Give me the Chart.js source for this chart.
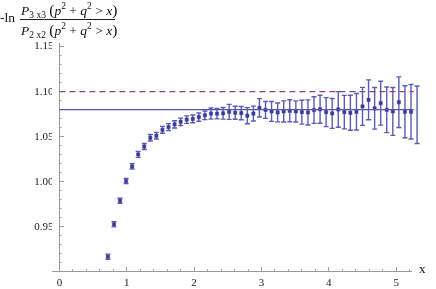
<!DOCTYPE html>
<html>
<head>
<meta charset="utf-8">
<script src="https://cdn.jsdelivr.net/npm/chart.js@4"></script>
<style>
  body { margin: 0; background: #fff; }
  #wrap { position: relative; width: 436px; height: 289px; }
  canvas { position: absolute; left: 0; top: 0; }
  .lbl { position: absolute; font-family: 'Liberation Serif', serif; color: #111; white-space: nowrap; line-height: 1; }
  #neg { left: 0; top: 11px; font-size: 13.5px; }
  #num { left: 21px; top: 2px; font-size: 13.5px; }
  #den { left: 21px; top: 22px; font-size: 13.5px; }
  #bar { position: absolute; left: 20px; top: 19px; width: 95px; height: 0; border-top: 1px solid #222; }
  #xlab { left: 419px; top: 262px; font-size: 13px; }
  .lbl sub { font-size: 9.5px; vertical-align: -3px; }
  .lbl sup { font-size: 9.5px; vertical-align: 6px; }
  .par { font-size: 15.5px; }
</style>
</head>
<body>
<div id="wrap">
  <canvas id="chart" width="436" height="289"></canvas>
  <div class="lbl" id="neg">-ln</div>
  <div class="lbl" id="num"><i>P</i><sub>3 x3</sub> <span class="par">(</span><i>p</i><sup>2</sup> + <i>q</i><sup>2</sup> &gt; <i>x</i><span class="par">)</span></div>
  <div id="bar"></div>
  <div class="lbl" id="den"><i>P</i><sub>2 x2</sub> <span class="par">(</span><i>p</i><sup>2</sup> + <i>q</i><sup>2</sup> &gt; <i>x</i><span class="par">)</span></div>
  <div class="lbl" id="xlab">x</div>
</div>
<script>
// data
const xValues = [0.72, 0.81, 0.90, 0.99, 1.08, 1.17, 1.26, 1.35, 1.44, 1.53,
                 1.62, 1.71, 1.80, 1.89, 1.98, 2.07, 2.16, 2.25, 2.34, 2.43,
                 2.52, 2.61, 2.70, 2.79, 2.88, 2.97, 3.06, 3.15, 3.24, 3.33,
                 3.42, 3.51, 3.60, 3.69, 3.78, 3.87, 3.96, 4.05, 4.14, 4.23,
                 4.32, 4.41, 4.50, 4.59, 4.68, 4.77, 4.86, 4.95, 5.04, 5.13,
                 5.22, 5.31];
const yValues = [0.9167, 0.9526, 0.9788, 1.0007, 1.0170, 1.0303, 1.0390, 1.0487, 1.0510, 1.0576,
                 1.0606, 1.0636, 1.0665, 1.0689, 1.0697, 1.0717, 1.0737, 1.0756, 1.0755, 1.0759,
                 1.0775, 1.0765, 1.0761, 1.0733, 1.0756, 1.0820, 1.0797, 1.0780, 1.0769, 1.0780,
                 1.0787, 1.0780, 1.0772, 1.0769, 1.0795, 1.0804, 1.0772, 1.0758, 1.0802, 1.0772,
                 1.0765, 1.0776, 1.0836, 1.0909, 1.0814, 1.0872, 1.0798, 1.0780, 1.0883, 1.0776,
                 1.0776, 1.0743];
const yErrors = [0.0028, 0.0028, 0.0028, 0.0028, 0.0030, 0.0033, 0.0033, 0.0036, 0.0037, 0.0038,
                 0.0039, 0.0040, 0.0041, 0.0042, 0.0043, 0.0046, 0.0048, 0.0062, 0.0058, 0.0064,
                 0.0083, 0.0072, 0.0074, 0.0089, 0.0083, 0.0102, 0.0094, 0.0111, 0.0105, 0.0117,
                 0.0122, 0.0117, 0.0133, 0.0139, 0.0148, 0.0155, 0.0161, 0.0166, 0.0198, 0.0186,
                 0.0194, 0.0203, 0.0211, 0.0222, 0.0231, 0.0244, 0.0253, 0.0266, 0.0281, 0.0289,
                 0.0303, 0.0319];

// horizontal reference lines
const refX = [0, 5.26];
const solidLevel = [1.08, 1.08];
const dashedLevel = [1.10, 1.10];

const xMin = -0.11, xMax = 5.22;
const yMin = 0.9, yMax = 1.154;

const pointColor = '#3a3a98';
const barColor = 'rgba(62, 62, 165, 0.85)';
const axisColor = '#9a9a9a';

const points = xValues.map((x, i) => ({ x: x, y: yValues[i] }));

// error bars drawn through the scales, under the points
const errorBars = {
    id: 'errorBars',
    beforeDatasetsDraw(chart) {
        const ctx = chart.ctx;
        const xs = chart.scales.x;
        const ys = chart.scales.y;
        ctx.save();
        ctx.strokeStyle = barColor;
        ctx.lineWidth = 1.4;
        xValues.forEach((x, i) => {
            const px = xs.getPixelForValue(x);
            const top = ys.getPixelForValue(yValues[i] + yErrors[i]);
            const bot = ys.getPixelForValue(yValues[i] - yErrors[i]);
            ctx.beginPath();
            ctx.moveTo(px, top); ctx.lineTo(px, bot);
            ctx.moveTo(px - 2.5, top); ctx.lineTo(px + 2.5, top);
            ctx.moveTo(px - 2.5, bot); ctx.lineTo(px + 2.5, bot);
            ctx.stroke();
        });
        ctx.restore();
    }
};

const isMultiple = (v, step) => Math.abs(v / step - Math.round(v / step)) < 1e-6;
const tickFont = { family: "'Liberation Serif', serif", size: 11 };

new Chart(document.getElementById('chart'), {
    type: 'scatter',
    data: {
        datasets: [
            {
                data: refX.map((x, i) => ({ x: x, y: dashedLevel[i] })),
                type: 'line',
                borderColor: '#9a4373',
                borderWidth: 1.3,
                borderDash: [6, 4],
                pointRadius: 0,
                clip: false
            },
            {
                data: refX.map((x, i) => ({ x: x, y: solidLevel[i] })),
                type: 'line',
                borderColor: '#5656b0',
                borderWidth: 1.4,
                pointRadius: 0,
                clip: false
            },
            {
                data: points,
                pointStyle: 'rect',
                pointRadius: 2.3,
                backgroundColor: pointColor,
                borderColor: pointColor,
                borderWidth: 0.5,
                clip: false
            }
        ]
    },
    options: {
        responsive: false,
        animation: false,
        layout: { padding: { left: 0, right: 25, top: 43, bottom: 0 } },
        plugins: { legend: { display: false }, tooltip: { enabled: false } },
        scales: {
            // x axis: line, minor ticks and labels
            x: {
                type: 'linear',
                position: 'bottom',
                min: xMin,
                max: xMax,
                afterFit: scale => { scale.height = 17.3; },
                border: { color: axisColor, width: 1 },
                grid: { drawOnChartArea: false, tickLength: -2.5, color: axisColor },
                ticks: {
                    stepSize: 0.2,
                    autoSkip: false,
                    maxRotation: 0,
                    includeBounds: false,
                    padding: 7.5,
                    color: '#222',
                    font: tickFont,
                    callback: v => isMultiple(v, 1) ? String(Math.round(v)) : ''
                }
            },
            // longer major ticks on x
            xmajor: {
                axis: 'x',
                type: 'linear',
                position: { y: yMin },
                min: xMin,
                max: xMax,
                border: { display: false },
                grid: { drawOnChartArea: false, tickLength: -5, color: axisColor },
                ticks: { display: false, stepSize: 1, includeBounds: false }
            },
            // y labels only
            y: {
                type: 'linear',
                position: 'left',
                min: yMin,
                max: yMax,
                border: { display: false },
                grid: { display: false, drawTicks: false },
                afterFit: scale => { scale.width = 52; },
                ticks: {
                    stepSize: 0.05,
                    includeBounds: false,
                    padding: -1.5,
                    color: '#222',
                    font: tickFont,
                    callback: v => (v > 0.92 ? v.toFixed(2) : '')
                }
            },
            // y axis line at x = 0 with minor ticks
            yaxis: {
                axis: 'y',
                type: 'linear',
                position: { x: 0 },
                min: yMin,
                max: yMax,
                border: { color: axisColor, width: 1 },
                grid: { drawOnChartArea: false, tickLength: -2.5, color: axisColor },
                ticks: { display: false, stepSize: 0.01, includeBounds: false }
            },
            ymajor: {
                axis: 'y',
                type: 'linear',
                position: { x: 0 },
                min: yMin,
                max: yMax,
                border: { display: false },
                grid: { drawOnChartArea: false, tickLength: -5, color: axisColor },
                ticks: { display: false, stepSize: 0.05, includeBounds: false }
            }
        }
    },
    plugins: [errorBars]
});
</script>
</body>
</html>
